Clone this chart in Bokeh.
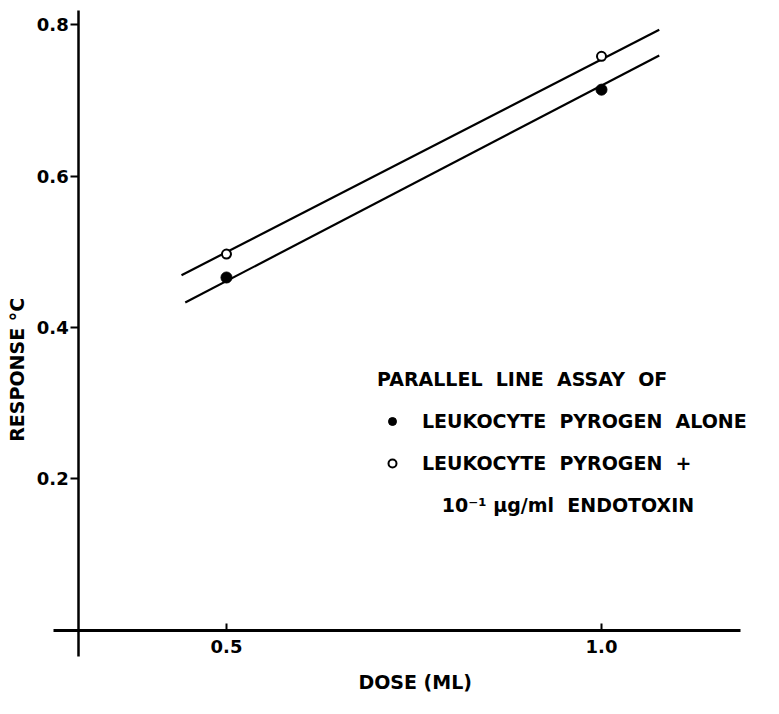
from math import pi
from bokeh.plotting import figure
from bokeh.models import FixedTicker, Legend, LegendItem, Label, PrintfTickFormatter
from bokeh.embed import file_html
from bokeh.resources import INLINE

# ---- data ----
dose = [0.5, 1.0]
resp_alone = [0.466, 0.714]          # filled circles: leukocyte pyrogen alone
resp_endotoxin = [0.497, 0.758]      # open circles: + 10^-1 ug/ml endotoxin

fit_dose_alone = [0.445, 1.077]
fit_resp_alone = [0.433, 0.759]
fit_dose_endo = [0.440, 1.077]
fit_resp_endo = [0.469, 0.793]

x_ticks = [0.5, 1.0]
y_ticks = [0.2, 0.4, 0.6, 0.8]

FONT = "DejaVu Sans"

p = figure(width=763, height=698, output_backend="svg", toolbar_location=None,
           x_range=(0.1987, 1.2160), y_range=(-0.0898, 0.8317),
           min_border=0, min_border_left=0, min_border_right=0,
           min_border_top=0, min_border_bottom=0)
p.outline_line_color = None
p.grid.visible = False
p.background_fill_color = "white"

# axes crossing at fixed locations
xa = p.xaxis[0]
xa.fixed_location = 0
xa.bounds = (0.2693, 1.1853)
xa.ticker = FixedTicker(ticks=x_ticks)
xa.formatter = PrintfTickFormatter(format="%.1f")
xa.major_tick_in = 7
xa.major_tick_out = 0
xa.minor_tick_in = 0
xa.minor_tick_out = 0
xa.axis_line_width = 2.8
xa.major_tick_line_width = 2
xa.major_label_standoff = 10
xa.major_label_text_font = FONT
xa.major_label_text_font_size = "18px"
xa.major_label_text_font_style = "bold"
xa.major_label_text_color = "black"

ya = p.yaxis[0]
ya.fixed_location = 0.303
ya.bounds = (-0.035, 0.8185)
ya.ticker = FixedTicker(ticks=y_ticks)
ya.major_tick_in = 0
ya.major_tick_out = 8
ya.minor_tick_in = 0
ya.minor_tick_out = 0
ya.axis_line_width = 2.5
ya.major_tick_line_width = 2
ya.major_label_standoff = 2
ya.major_label_text_font = FONT
ya.major_label_text_font_size = "18px"
ya.major_label_text_font_style = "bold"
ya.major_label_text_color = "black"

# fitted parallel lines
p.line(fit_dose_endo, fit_resp_endo, line_color="black", line_width=2.2)
p.line(fit_dose_alone, fit_resp_alone, line_color="black", line_width=2.2)

# points
filled_r = p.scatter(dose, resp_alone, size=11, fill_color="black", line_color="black")
open_r = p.scatter(dose, resp_endotoxin, size=9, fill_color="white",
                   line_color="black", line_width=2)
blank_r = p.scatter([], [], size=0, fill_alpha=0, line_alpha=0)

legend = Legend(
    items=[
        LegendItem(label="LEUKOCYTE  PYROGEN  ALONE", renderers=[filled_r]),
        LegendItem(label="LEUKOCYTE  PYROGEN  +", renderers=[open_r]),
        LegendItem(label="\u00a0\u00a0\u00a010\u207b\u00b9 \u00b5g/ml  ENDOTOXIN", renderers=[blank_r]),
    ],
    title="PARALLEL  LINE  ASSAY  OF",
    location=(377, 182),
)
legend.title_text_font = FONT
legend.title_text_font_size = "19px"
legend.title_text_font_style = "bold"
legend.title_text_color = "black"
legend.title_standoff = 20
legend.label_text_font = FONT
legend.label_text_font_size = "19px"
legend.label_text_font_style = "bold"
legend.label_text_color = "black"
legend.label_height = 20
legend.glyph_height = 20
legend.glyph_width = 30
legend.label_standoff = 15
legend.spacing = 20
legend.padding = 0
legend.margin = 0
legend.border_line_color = None
legend.background_fill_alpha = 0
p.add_layout(legend)

# axis titles
p.add_layout(Label(x=16, y=332, x_units="screen", y_units="screen",
                   text="RESPONSE  \u00b0C", angle=pi / 2,
                   text_align="center", text_baseline="middle", text_color="black",
                   text_font=FONT, text_font_size="19px", text_font_style="bold"))
p.add_layout(Label(x=418, y=17, x_units="screen", y_units="screen",
                   text="DOSE  (ML)", text_align="center", text_baseline="middle",
                   text_color="black",
                   text_font=FONT, text_font_size="19px", text_font_style="bold"))

open("out.html", "w").write(file_html(p, INLINE))
